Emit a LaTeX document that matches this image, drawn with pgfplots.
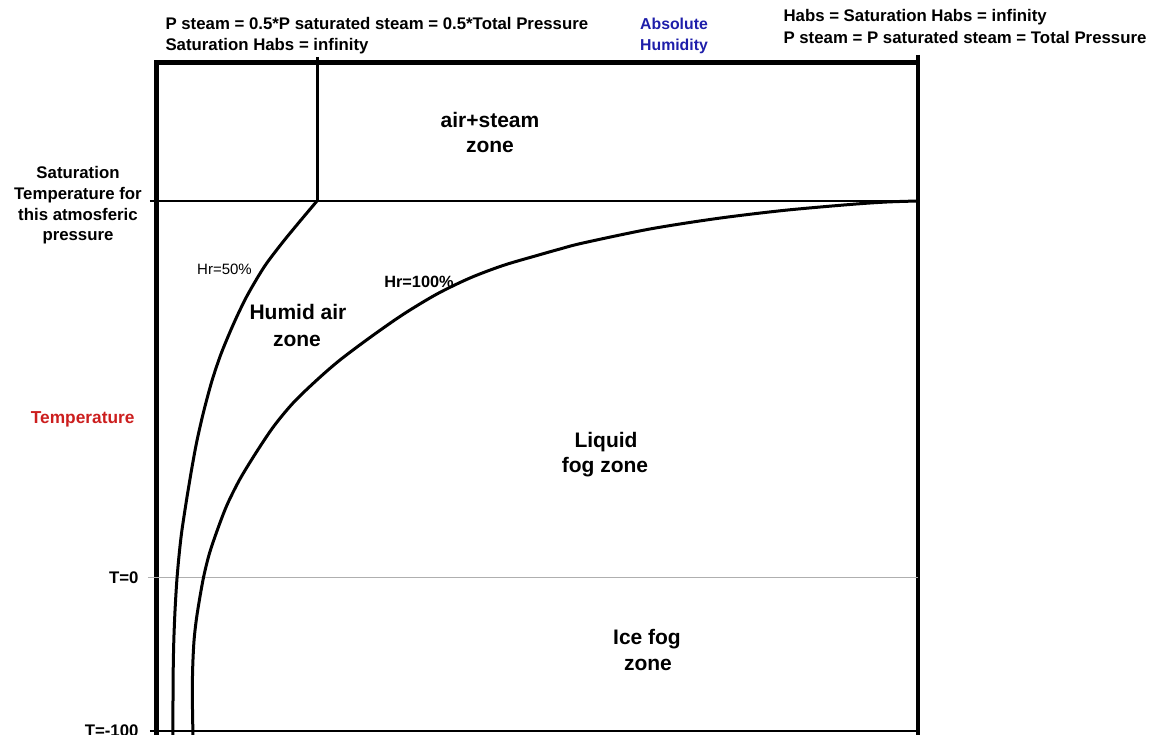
\documentclass[border=0pt]{standalone}
\usepackage{pgfplots}
\pgfplotsset{compat=1.18}
\usepackage{fontspec}
\setmainfont{Liberation Sans}
\definecolor{tred}{RGB}{204,30,30}
\definecolor{tblue}{RGB}{30,30,170}
\definecolor{tgray}{RGB}{175,175,175}
\newcommand\tf{\fontsize{16.8}{20}\selectfont\bfseries}
\newcommand\zf{\fontsize{21}{25}\selectfont\bfseries}
\begin{document}
\begin{tikzpicture}
\path[use as bounding box, clip] (0,0) rectangle (1152pt,735pt);
\begin{axis}[at={(157pt,4pt)}, anchor=south west, width=761pt, height=668pt,
  scale only axis, xmin=0, xmax=761, ymin=0, ymax=668, hide axis, clip=false,
  every node/.style={inner sep=0pt}]
% frame and zone lines
\addplot[line width=5pt, line join=miter] coordinates {(0,-6) (0,668) (761,668)};
\addplot[line width=3.5pt] coordinates {(761,676) (761,-6)};
\addplot[line width=3pt] coordinates {(160,674) (160,530)};
\addplot[line width=1.6pt] coordinates {(-7,530) (761,530)};
\addplot[line width=1pt, tgray] coordinates {(-9,153) (761,153)};
\addplot[line width=2.5pt] coordinates {(-7,0) (761,0)};
% Hr = 50%
\addplot[line width=3pt, smooth] coordinates {
(16,-6) (16,30) (16.2,60) (16.8,90) (18,120) (19.8,150) (22,175) (24.7,199)
(29.7,232) (34.7,262) (39.7,289) (46.3,318) (54.7,349.3) (63.5,375.7) (73,399)
(81.3,417.5) (89.7,434.5) (99.7,452) (109.7,467.8) (126.3,489.5) (143,509.8) (160,530)};
% Hr = 100%
\addplot[line width=3pt, smooth] coordinates {
(36,-6) (35.4,30) (35.6,60) (37,90) (40,116) (46,151) (52,176) (60,200) (70,226) (83,252)
(99.5,279) (117,305) (137,329) (161,352) (183,371) (213,393.5) (246,416.5)
(280,437) (313,453) (346,465.5) (380,475.5) (403,482) (426,488) (493,502)
(560,512.5) (626,520.5) (693,526.5) (730,529) (761,530)};
% top labels
\node[anchor=base west, font=\tf] at (axis cs:5,701) {P steam = 0.5*P saturated steam = 0.5*Total Pressure};
\node[anchor=base west, font=\tf] at (axis cs:5,680) {Saturation Habs = infinity};
\node[anchor=base, font=\fontsize{15.8}{18}\selectfont\bfseries, text=tblue] at (axis cs:517,701) {Absolute};
\node[anchor=base, font=\fontsize{15.8}{18}\selectfont\bfseries, text=tblue] at (axis cs:517,680) {Humidity};
\node[anchor=base west, font=\tf] at (axis cs:623,709) {Habs = Saturation Habs = infinity};
\node[anchor=base west, font=\tf] at (axis cs:623,687) {P steam = P saturated steam = Total Pressure};
% left labels
\node[anchor=base, font=\tf] at (axis cs:-79,552) {Saturation};
\node[anchor=base, font=\tf] at (axis cs:-79,531) {Temperature for};
\node[anchor=base, font=\tf] at (axis cs:-79,510.5) {this atmosferic};
\node[anchor=base, font=\tf] at (axis cs:-79,490) {pressure};
\node[anchor=base east, font=\fontsize{17.3}{20}\selectfont\bfseries, text=tred] at (axis cs:-19,307) {Temperature};
\node[anchor=base east, font=\tf] at (axis cs:-15,147) {T=0};
\node[anchor=base east, font=\tf] at (axis cs:-15,-6) {T=-100};
% zone labels
\node[anchor=base, font=\zf] at (axis cs:333,603) {air+steam};
\node[anchor=base, font=\zf] at (axis cs:333,578) {zone};
\node[anchor=base, font=\zf] at (axis cs:141,411) {Humid air};
\node[anchor=base, font=\zf] at (axis cs:140,384) {zone};
\node[anchor=base, font=\zf] at (axis cs:449,283) {Liquid};
\node[anchor=base, font=\zf] at (axis cs:448,258) {fog zone};
\node[anchor=base, font=\zf] at (axis cs:490,86) {Ice fog};
\node[anchor=base, font=\zf] at (axis cs:491,60) {zone};
\node[anchor=base, font=\fontsize{15}{18}\selectfont] at (axis cs:67.5,456) {Hr=50\%};
\node[anchor=base, font=\fontsize{16.3}{18}\selectfont\bfseries] at (axis cs:262,443) {Hr=100\%};
\end{axis}
\end{tikzpicture}
\end{document}
